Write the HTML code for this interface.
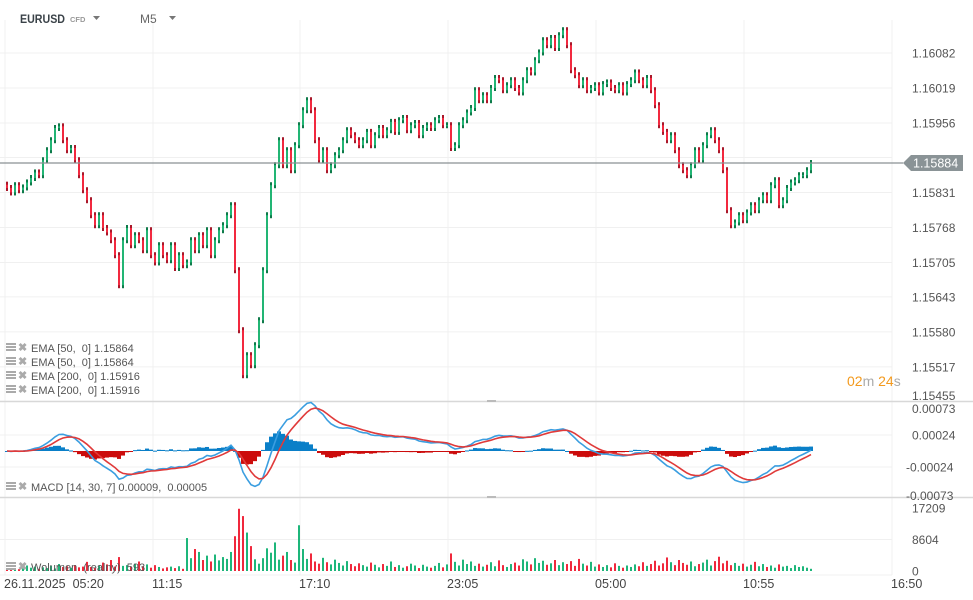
<!DOCTYPE html>
<html><head><meta charset="utf-8"><style>
body{margin:0;background:#fff;font-family:"Liberation Sans",sans-serif}
#wrap{position:relative;width:973px;height:600px;overflow:hidden}
svg{position:absolute;left:0;top:0}
.t{font-family:"Liberation Sans",sans-serif}
</style></head><body>
<div id="wrap">
<svg id="c" width="973" height="600"></svg>
</div>
<script>
const closes=[1.15839,1.15831,1.15844,1.15835,1.15840,1.15849,1.15857,1.15867,1.15862,1.15889,
1.15907,1.15925,1.15947,1.15950,1.15925,1.15907,1.15911,1.15889,1.15862,1.15835,
1.15817,1.15790,1.15772,1.15790,1.15767,1.15759,1.15745,1.15718,1.15664,1.15745,
1.15767,1.15736,1.15754,1.15745,1.15727,1.15763,1.15718,1.15705,1.15736,1.15718,
1.15709,1.15736,1.15695,1.15718,1.15700,1.15705,1.15745,1.15727,1.15754,1.15736,
1.15763,1.15718,1.15745,1.15763,1.15772,1.15790,1.15808,1.15691,1.15583,1.15502,
1.15538,1.15520,1.15556,1.15601,1.15691,1.15790,1.15844,1.15880,1.15925,1.15880,
1.15907,1.15871,1.15916,1.15952,1.15979,1.15997,1.15979,1.15925,1.15889,1.15907,
1.15871,1.15880,1.15898,1.15907,1.15925,1.15943,1.15934,1.15925,1.15916,1.15925,
1.15940,1.15916,1.15934,1.15947,1.15934,1.15943,1.15958,1.15940,1.15961,1.15965,
1.15943,1.15952,1.15956,1.15934,1.15947,1.15952,1.15947,1.15961,1.15965,1.15952,
1.15952,1.15911,1.15916,1.15952,1.15961,1.15975,1.15983,1.16015,1.15997,1.16006,
1.15997,1.16019,1.16037,1.16033,1.16015,1.16024,1.16033,1.16019,1.16011,1.16033,
1.16051,1.16047,1.16069,1.16083,1.16105,1.16096,1.16109,1.16091,1.16114,1.16123,
1.16096,1.16051,1.16042,1.16024,1.16033,1.16015,1.16019,1.16024,1.16011,1.16026,
1.16029,1.16019,1.16015,1.16024,1.16011,1.16026,1.16033,1.16047,1.16033,1.16024,
1.16037,1.16015,1.15988,1.15952,1.15940,1.15925,1.15934,1.15907,1.15880,1.15871,
1.15862,1.15880,1.15907,1.15889,1.15916,1.15934,1.15943,1.15925,1.15907,1.15871,
1.15799,1.15772,1.15777,1.15790,1.15781,1.15795,1.15808,1.15799,1.15817,1.15826,
1.15817,1.15844,1.15853,1.15808,1.15817,1.15839,1.15849,1.15853,1.15862,1.15862,
1.15871,1.15884];
const firstOpen=1.15845;
const volumes=[600,400,800,500,700,1500,900,1200,600,1000,800,1400,700,1900,1100,1300,900,1600,1000,1200,
2500,1100,900,1500,2300,1800,3000,1200,3800,1400,1600,1200,2000,2600,1300,1800,900,1600,1100,700,
1000,1200,800,1300,600,9000,3500,6000,5200,3000,4200,2600,4500,2900,3800,3300,5200,9500,17000,15000,
10500,6800,3200,2000,3500,6200,5000,7800,3100,4200,5200,3000,2300,12500,6000,3300,4800,2600,2000,3600,
2400,1800,3100,2200,1500,2700,1900,1300,2100,1600,1200,2300,1700,1000,1900,1400,2600,1100,1600,900,
1300,2000,1500,800,1700,1200,900,1400,2200,1000,1800,4800,2500,1500,3100,1900,2600,1400,2000,1200,
1700,2400,1300,2900,1600,1100,1900,2300,1500,3200,2600,1800,3500,2200,2800,1700,2100,3000,1600,2400,
1900,2700,1400,3300,2000,1500,2500,1200,1800,1100,1600,1000,2100,1400,900,1500,1100,1800,1300,2400,
1400,1900,2800,1500,2100,3700,2400,1600,3000,2200,1700,2600,1300,1900,2300,3100,1500,2700,3900,2100,
2800,1600,2200,1400,2000,1200,1700,2500,1300,1900,1100,1500,900,1800,1200,1400,800,1600,1100,1300,900,600];
const priceTicks=[1.16082,1.16019,1.15956,1.15831,1.15768,1.15705,1.15643,1.15580,1.15517,1.15455];
const macdTicks=[0.00073,0.00024,-0.00024,-0.00073];
const volTicks=[17209,8604,0];
const timeLabels=["26.11.2025  05:20","11:15","17:10","23:05","05:00","10:55","16:50"];
const lastPrice=1.15884;

const NS="http://www.w3.org/2000/svg";
const svg=document.getElementById('c');
function mk(tag,attrs,parent){const e=document.createElementNS(NS,tag);for(const k in attrs)e.setAttribute(k,attrs[k]);(parent||svg).appendChild(e);return e;}
const xOf=i=>6+4*i;
const yP=p=>53+(1.16082-p)/0.000018;
const yM=v=>451-v/0.000015;
const yV=v=>571-v*(63/17209);
const gridX=[5,153,300,448,596,744,892];

const g=mk('g',{});


gridX.forEach(x=>{mk('line',{x1:x,x2:x,y1:20,y2:575,stroke:'#f0f0f0','stroke-width':1},g);});
priceTicks.forEach(p=>{mk('line',{x1:0,x2:892,y1:yP(p),y2:yP(p),stroke:'#f0f0f0'},g);});
mk('line',{x1:0,x2:892,y1:yP(1.15894),y2:yP(1.15894),stroke:'#f0f0f0'},g);
[0.00024,-0.00024].forEach(v=>mk('line',{x1:0,x2:892,y1:yM(v),y2:yM(v),stroke:'#f0f0f0'},g));
[8604].forEach(v=>mk('line',{x1:0,x2:892,y1:yV(v),y2:yV(v),stroke:'#f0f0f0'},g));
mk('line',{x1:0,x2:892,y1:575,y2:575,stroke:'#f0f0f0'},g);
mk('line',{x1:0,x2:973,y1:401.5,y2:401.5,stroke:'#d8d8d8','stroke-width':1.5},g);
mk('line',{x1:0,x2:973,y1:497.5,y2:497.5,stroke:'#d8d8d8','stroke-width':1.5},g);
mk('rect',{x:487,y:400,width:9,height:2,fill:'#bbb'},g);
mk('rect',{x:487,y:496,width:9,height:2,fill:'#bbb'},g);

const cg=mk('g',{});


closes.forEach((c,i)=>{
  const o=i===0?firstOpen:closes[i-1];
  const up=c>=o;
  const x=xOf(i);
  const top=yP(Math.max(o,c)),bot=yP(Math.min(o,c));
  const w=mk('rect',{x:x,y:top-3,width:2,height:bot-top+6,fill:up?'#0e7a4a':'#a8182a'},cg);
  
  
  const b=mk('rect',{x:x,y:top,width:2,height:Math.max(1,bot-top),fill:up?'#22b574':'#f2293f'},cg);
  
  
});
mk('line',{x1:0,x2:903,y1:yP(lastPrice),y2:yP(lastPrice),stroke:'#8a9194','stroke-width':1.2});
const tag=mk('path',{d:`M903 ${yP(lastPrice)} l8 -8 h52 v16 h-52 z`,fill:'#8a9396'});


const tt=mk('text',{x:913,y:yP(lastPrice)+4.5,'font-size':12.5,fill:'#fff',class:'t'});
tt.textContent=lastPrice.toFixed(5);



priceTicks.forEach(p=>{const t=mk('text',{x:912,y:Math.min(yP(p)+4.5,400),'font-size':12,fill:'#555',class:'t'});t.textContent=p.toFixed(5);

});
function emaArr(arr,n){const a=2/(n+1);let e=arr[0];return arr.map(v=>(e=e+a*(v-e)));}
const ef=emaArr(closes,10.5),es=emaArr(closes,22.5);
const macd=ef.map((v,i)=>v-es[i]);
const sig=emaArr(macd,5.3);
const mg=mk('g',{});


macd.forEach((m,i)=>{const h=m-sig[i];const y0=yM(0),y1=yM(h);
 const r=mk('rect',{x:xOf(i)-1,y:Math.min(y0,y1),width:4,height:Math.max(1,Math.abs(y1-y0)),fill:h>=0?'#0a7fc8':'#cc0c0c'},mg);
 
 });
const line=(arr,col)=>{const p=mk('polyline',{points:arr.map((v,i)=>xOf(i)+1+','+yM(v).toFixed(1)).join(' '),fill:'none',stroke:col,'stroke-width':1.6},mg);return p;};
const ml=line(macd,'#3b9ee0');


const sl=line(sig,'#e03a3a');


macdTicks.forEach(v=>{const y=Math.max(413,Math.min(500,yM(v)+4.5));const t=mk('text',{x:v<0?906:912,y:y,'font-size':12,fill:'#555',class:'t'});t.textContent=v.toFixed(5);

});
const vg=mk('g',{});


volumes.forEach((v,i)=>{const o=i===0?firstOpen:closes[i-1];const up=closes[i]>=o;
 const r=mk('rect',{x:xOf(i),y:yV(v),width:2,height:571-yV(v),fill:up?'#1db67a':'#f0283c'},vg);
 
 });
volTicks.forEach(v=>{const t=mk('text',{x:912,y:Math.max(512,yV(v)+4.5),'font-size':12,fill:'#555',class:'t'});t.textContent=String(v);

});
timeLabels.forEach((s,i)=>{const t=mk('text',{x:gridX[i]-1,y:588,'font-size':12.5,fill:'#444',class:'t'});t.textContent=s;t.style.whiteSpace='pre';

});
function legend(y,txt,name){const gg=mk('g',{});
 
 
 mk('rect',{x:6,y:y-8,width:10,height:2,fill:'#aaa'},gg);mk('rect',{x:6,y:y-5,width:10,height:2,fill:'#aaa'},gg);mk('rect',{x:6,y:y-2,width:10,height:2,fill:'#aaa'},gg);
 const x=mk('text',{x:18,y:y,'font-size':11,fill:'#aaa','font-weight':'bold',class:'t'},gg);x.textContent='✖';
 const t=mk('text',{x:31,y:y+1,'font-size':11,fill:'#555',class:'t'},gg);t.textContent=txt;t.style.whiteSpace='pre';}
legend(351,'EMA [50,  0] 1.15864','ema-legend-1');
legend(365,'EMA [50,  0] 1.15864','ema-legend-2');
legend(379,'EMA [200,  0] 1.15916','ema-legend-3');
legend(393,'EMA [200,  0] 1.15916','ema-legend-4');
legend(490,'MACD [14, 30, 7] 0.00009,  0.00005','macd-legend');
legend(570,'Wolumen  (realny)  593','volume-legend');
const h1=mk('text',{x:20,y:23,'font-size':12,'font-weight':'bold',fill:'#3a4248',class:'t',textLength:45,lengthAdjust:'spacingAndGlyphs'});h1.textContent='EURUSD';


const h2=mk('text',{x:70,y:22,'font-size':7.5,'font-weight':'bold',fill:'#999',class:'t'});h2.textContent='CFD';


const d1=mk('path',{d:'M93 16 h7 l-3.5 4 z',fill:'#777'});


const h3=mk('text',{x:140,y:23,'font-size':12,fill:'#666',class:'t'});h3.textContent='M5';


const d2=mk('path',{d:'M169 16 h7 l-3.5 4 z',fill:'#777'});


const tm=mk('text',{x:847,y:386,'font-size':14,class:'t'});


[['02','#f39a1e'],['m ','#aaa'],['24','#f39a1e'],['s','#aaa']].forEach(([s,c])=>{const sp=mk('tspan',{fill:c},tm);sp.textContent=s;});
tm.style.whiteSpace='pre';
</script>
</body></html>
